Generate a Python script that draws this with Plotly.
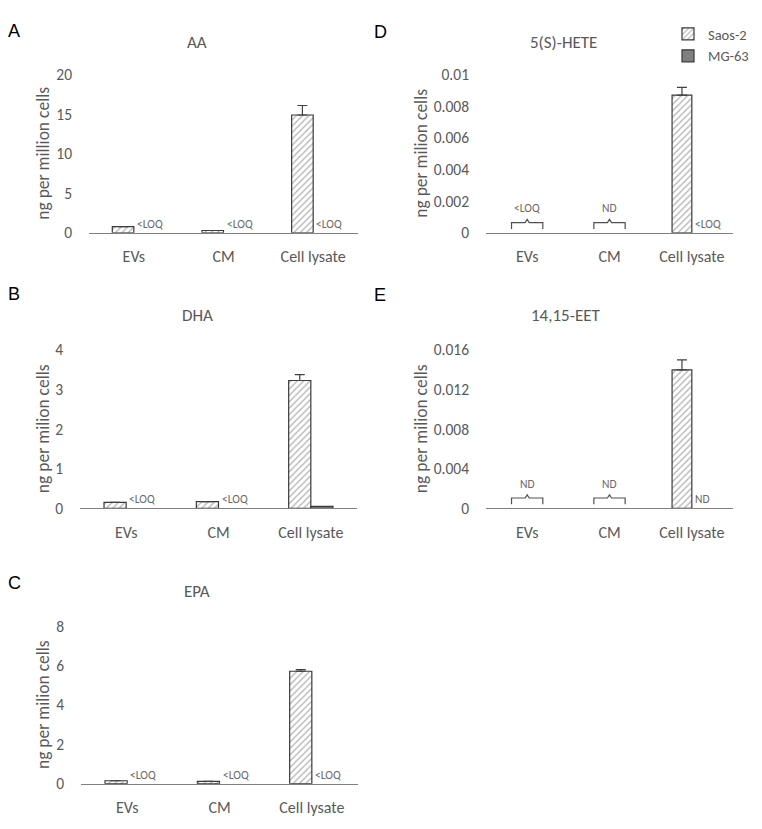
import plotly.graph_objects as go

# categories on every panel
categories = ["EVs", "CM", "Cell lysate"]

# A - AA
aa_saos = [0.8, 0.3, 14.9]
aa_saos_err = [0, 0, 1.2]
aa_mg = [None, None, None]
aa_mg_note = ["<LOQ", "<LOQ", "<LOQ"]
aa_group_note = ["", "", ""]

# B - DHA
dha_saos = [0.15, 0.17, 3.23]
dha_saos_err = [0, 0, 0.15]
dha_mg = [None, None, 0.05]
dha_mg_note = ["<LOQ", "<LOQ", ""]
dha_group_note = ["", "", ""]

# C - EPA
epa_saos = [0.15, 0.12, 5.72]
epa_saos_err = [0, 0, 0.08]
epa_mg = [None, None, None]
epa_mg_note = ["<LOQ", "<LOQ", "<LOQ"]
epa_group_note = ["", "", ""]

# D - 5(S)-HETE
hete_saos = [None, None, 0.0087]
hete_saos_err = [0, 0, 0.0005]
hete_mg = [None, None, None]
hete_mg_note = ["", "", "<LOQ"]
hete_group_note = ["<LOQ", "ND", ""]

# E - 14,15-EET
eet_saos = [None, None, 0.0140]
eet_saos_err = [0, 0, 0.001]
eet_mg = [None, None, None]
eet_mg_note = ["", "", "ND"]
eet_group_note = ["ND", "ND", ""]

# the page body keeps its default 8px margin, so size the figure to fit the window
PAD = 8
W, H = 762 - 2 * PAD, 829 - 2 * PAD
GREY = "#595959"
FONT = "Carlito, Lato, sans-serif"


def fx(px):
    return (px - PAD) / W


def fy(px):
    return 1 - (px - PAD) / H


# panel layout in page pixels: left, right, top, bottom of plot area
panels = [
    dict(letter="A", title="AA", ytitle="ng per million cells",
         saos=aa_saos, err=aa_saos_err, mg=aa_mg, mg_note=aa_mg_note, grp=aa_group_note,
         ymax=20, dtick=5, box=(89, 358, 66, 228), title_xy=(197, 33), ytitle_x=43, letter_xy=(14, 21)),
    dict(letter="D", title="5(S)-HETE", ytitle="ng per milion cells",
         saos=hete_saos, err=hete_saos_err, mg=hete_mg, mg_note=hete_mg_note, grp=hete_group_note,
         ymax=0.01, dtick=0.002, box=(486, 733, 66, 228), title_xy=(563, 33), ytitle_x=421, letter_xy=(380, 22)),
    dict(letter="B", title="DHA", ytitle="ng per milion cells",
         saos=dha_saos, err=dha_saos_err, mg=dha_mg, mg_note=dha_mg_note, grp=dha_group_note,
         ymax=4, dtick=1, box=(80, 357, 348, 510), title_xy=(197, 313), ytitle_x=43, letter_xy=(14, 291)),
    dict(letter="E", title="14,15-EET", ytitle="ng per milion cells",
         saos=eet_saos, err=eet_saos_err, mg=eet_mg, mg_note=eet_mg_note, grp=eet_group_note,
         ymax=0.016, dtick=0.004, box=(486, 733, 348, 510), title_xy=(566, 313), ytitle_x=421, letter_xy=(380, 292)),
    dict(letter="C", title="EPA", ytitle="ng per milion cells",
         saos=epa_saos, err=epa_saos_err, mg=epa_mg, mg_note=epa_mg_note, grp=epa_group_note,
         ymax=8, dtick=2, box=(81, 358, 631, 792), title_xy=(197, 595), ytitle_x=43, letter_xy=(14, 587)),
]

BW = 0.24
fig = go.Figure()
annotations = []
shapes = []

for i, p in enumerate(panels):
    n = "" if i == 0 else str(i + 1)
    xa, ya = "x" + n, "y" + n
    left, right, top, bottom = p["box"]

    fig.add_trace(go.Bar(
        x=categories, y=p["saos"], name="Saos-2", xaxis=xa, yaxis=ya,
        width=BW, offset=-BW, showlegend=(i == 0), legendrank=1,
        marker=dict(color="white", line=dict(color="#3a3a3a", width=1.2),
                    pattern=dict(shape="/", fgcolor="#6a6a6a", bgcolor="white",
                                 size=4.5, solidity=0.3)),
        error_y=dict(type="data", symmetric=False, array=p["err"],
                     arrayminus=[0] * len(p["err"]), color="#404040",
                     thickness=1.2, width=5),
    ))
    fig.add_trace(go.Bar(
        x=categories, y=p["mg"], name="MG-63", xaxis=xa, yaxis=ya,
        width=BW, offset=0, showlegend=(i == 0), legendrank=2,
        marker=dict(color="#808080", line=dict(color="#3a3a3a", width=1.2)),
    ))

    fig.update_layout(**{
        ("xaxis" + n): dict(domain=[fx(left), fx(right)], anchor=ya,
                            type="category", range=[-0.5, 2.5],
                            showline=True, linecolor="#808080", linewidth=1.3,
                            ticks="", ticklabelstandoff=9,
                            tickfont=dict(family=FONT, size=16, color=GREY),
                            showgrid=False, zeroline=False, fixedrange=True),
        ("yaxis" + n): dict(domain=[fy(bottom), fy(top)], anchor=xa,
                            range=[0, p["ymax"]], dtick=p["dtick"], tick0=0,
                            showline=False, ticks="", ticklabelstandoff=16,
                            tickfont=dict(family=FONT, size=15.5, color=GREY),
                            showgrid=False, zeroline=False, fixedrange=True),
    })

    # panel letter, title, y-axis title
    lx, ly = p["letter_xy"]
    tx, ty = p["title_xy"]
    annotations.append(dict(text=p["letter"], x=fx(lx), y=fy(ly), xref="paper", yref="paper",
                            xanchor="center", yanchor="middle", showarrow=False,
                            font=dict(family="Liberation Sans", size=18, color="black")))
    annotations.append(dict(text=p["title"], x=fx(tx), y=fy(ty),
                            xref="paper", yref="paper", xanchor="center", yanchor="middle",
                            showarrow=False, font=dict(family=FONT, size=17, color=GREY)))
    annotations.append(dict(text=p["ytitle"], x=fx(p["ytitle_x"]), y=fy((top + bottom) / 2),
                            xref="paper", yref="paper", xanchor="center", yanchor="middle",
                            showarrow=False, textangle=-90,
                            font=dict(family=FONT, size=17.5, color=GREY)))

    for k, note in enumerate(p["mg_note"]):
        if note:
            annotations.append(dict(text=note, x=k, y=0, xref=xa, yref=ya,
                                    xanchor="left", yanchor="bottom", xshift=1, yshift=0,
                                    showarrow=False, font=dict(family=FONT, size=11.5, color="#6a6a6a")))
    for k, note in enumerate(p["grp"]):
        if note:
            half = 0.19
            path = (f"M{k - half},0.025 L{k - half},0.065 L{k - 0.025},0.065 "
                    f"L{k},0.085 L{k + 0.025},0.065 L{k + half},0.065 L{k + half},0.025")
            shapes.append(dict(type="path", path=path, xref=xa, yref=ya + " domain",
                               line=dict(color="#505050", width=1.2)))
            annotations.append(dict(text=note, x=k, y=0.155, xref=xa, yref=ya + " domain",
                                    xanchor="center", yanchor="middle",
                                    showarrow=False, font=dict(family=FONT, size=11.5, color="#6a6a6a")))

fig.update_layout(
    width=W, height=H, margin=dict(l=0, r=0, t=0, b=0),
    paper_bgcolor="white", plot_bgcolor="white",
    barmode="overlay",
    annotations=annotations, shapes=shapes,
    legend=dict(x=1, y=1, xanchor="right", yanchor="top",
                font=dict(family=FONT, size=14.5, color=GREY),
                bgcolor="rgba(0,0,0,0)", tracegroupgap=0, itemwidth=30),
)

fig.write_html("out.html", config={"displayModeBar": False})
